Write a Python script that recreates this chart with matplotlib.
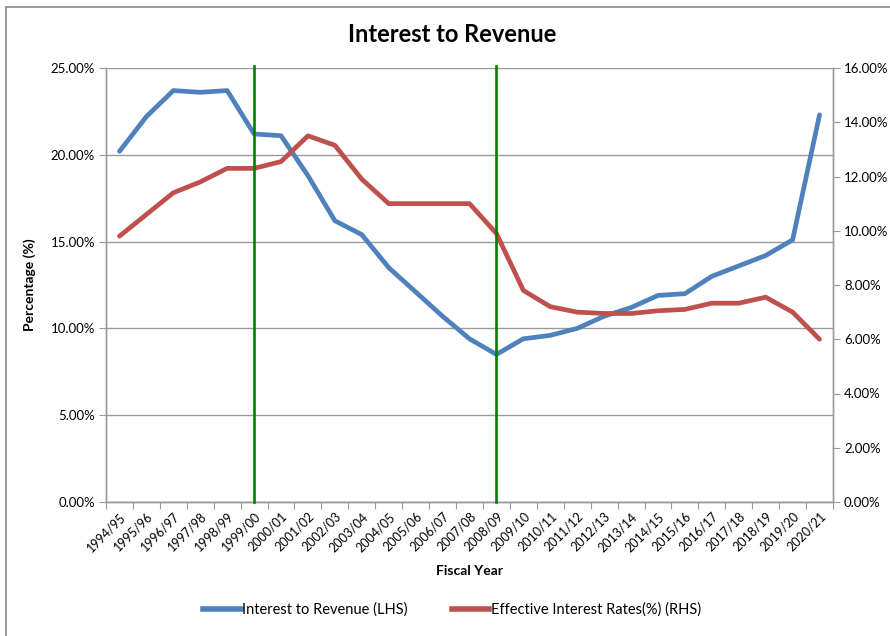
import matplotlib
matplotlib.use("Agg")
import matplotlib.pyplot as plt
from matplotlib.lines import Line2D
from matplotlib.ticker import FuncFormatter, MultipleLocator

plt.rcParams["font.family"] = ["Lato", "DejaVu Sans"]

years = ["1994/95", "1995/96", "1996/97", "1997/98", "1998/99", "1999/00",
         "2000/01", "2001/02", "2002/03", "2003/04", "2004/05", "2005/06",
         "2006/07", "2007/08", "2008/09", "2009/10", "2010/11", "2011/12",
         "2012/13", "2013/14", "2014/15", "2015/16", "2016/17", "2017/18",
         "2018/19", "2019/20", "2020/21"]
interest_to_revenue = [20.2, 22.2, 23.7, 23.6, 23.7, 21.2, 21.1, 18.8, 16.2,
                       15.4, 13.5, 12.1, 10.7, 9.4, 8.5, 9.4, 9.6, 10.0, 10.7,
                       11.2, 11.9, 12.0, 13.0, 13.6, 14.2, 15.1, 22.3]
effective_rate = [9.8, 10.6, 11.4, 11.8, 12.3, 12.3, 12.55, 13.5, 13.15, 11.9,
                  11.0, 11.0, 11.0, 11.0, 9.9, 7.8, 7.2, 7.0, 6.95, 6.95,
                  7.05, 7.1, 7.33, 7.33, 7.55, 7.0, 6.0]
marker_years = ["1999/00", "2008/09"]

BLUE = "#4F81BD"
RED = "#C0504D"
GRID = "#9a9a9a"

fig = plt.figure(figsize=(8.9, 6.36), dpi=100)
ax = fig.add_axes([106 / 890, 1 - 502 / 636, (833 - 106) / 890, (502 - 68) / 636])
ax2 = ax.twinx()

x = list(range(len(years)))
ax.plot(x, interest_to_revenue, color=BLUE, lw=3.4, solid_capstyle="round",
        solid_joinstyle="round", zorder=3)
ax2.plot(x, effective_rate, color=RED, lw=3.4, solid_capstyle="round",
         solid_joinstyle="round", zorder=3)
for yr in marker_years:
    ax2.axvline(years.index(yr), ymin=0, ymax=1.005, color="#008000", lw=1.9,
                clip_on=False, zorder=4)

ax.set_xlim(-0.5, len(years) - 0.5)
ax.set_ylim(0, 25)
ax2.set_ylim(0, 16)
ax.yaxis.set_major_locator(MultipleLocator(5))
ax2.yaxis.set_major_locator(MultipleLocator(2))
pct = FuncFormatter(lambda v, _: f"{v:.2f}%")
ax.yaxis.set_major_formatter(pct)
ax2.yaxis.set_major_formatter(pct)
ax.grid(axis="y", color=GRID, lw=1.0)
ax.set_axisbelow(True)

ax.set_xticks([i + 0.5 for i in range(-1, len(years))], minor=False)
ax.set_xticklabels([])
ax.set_xticks(x, minor=True)
ax.set_xticklabels(years, minor=True, rotation=45, ha="right",
                   rotation_mode="anchor", fontsize=9)
ax.tick_params(axis="x", which="major", length=5, color=GRID)
ax.tick_params(axis="x", which="minor", length=0, pad=6)
ax.tick_params(axis="y", length=5, color=GRID, labelsize=9.5, pad=3)
ax2.tick_params(axis="y", length=5, color=GRID, labelsize=9.5, pad=3)

for a in (ax, ax2):
    a.spines["top"].set_visible(False)
    for side in ("left", "right", "bottom"):
        a.spines[side].set_color(GRID)
        a.spines[side].set_linewidth(1.0)

ax.set_ylabel("Percentage (%)", fontsize=10, fontweight="bold", labelpad=10)
ax.set_xlabel("Fiscal Year", fontsize=10, fontweight="bold", labelpad=8)
fig.text(452 / 890, 1 - 34 / 636, "Interest to Revenue", ha="center",
         va="center", fontsize=17, fontweight="bold")

handles = [Line2D([], [], color=BLUE, lw=4),
           Line2D([], [], color=RED, lw=4)]
fig.legend(handles, ["Interest to Revenue (LHS)",
                     "Effective Interest Rates(%) (RHS)"],
           loc="center", bbox_to_anchor=(452 / 890, 1 - 610 / 636), ncol=2,
           frameon=False, fontsize=10.5, handlelength=2.6, handletextpad=0.1,
           columnspacing=3)

# chart border (only top and left edges fall inside the crop)
fig.add_artist(Line2D([6 / 890, 6 / 890], [0, 1 - 7 / 636],
                      transform=fig.transFigure, color="#8c8c8c", lw=1.2))
fig.add_artist(Line2D([6 / 890, 1], [1 - 7 / 636, 1 - 7 / 636],
                      transform=fig.transFigure, color="#8c8c8c", lw=1.2))

fig.savefig("out.png", dpi=100)
